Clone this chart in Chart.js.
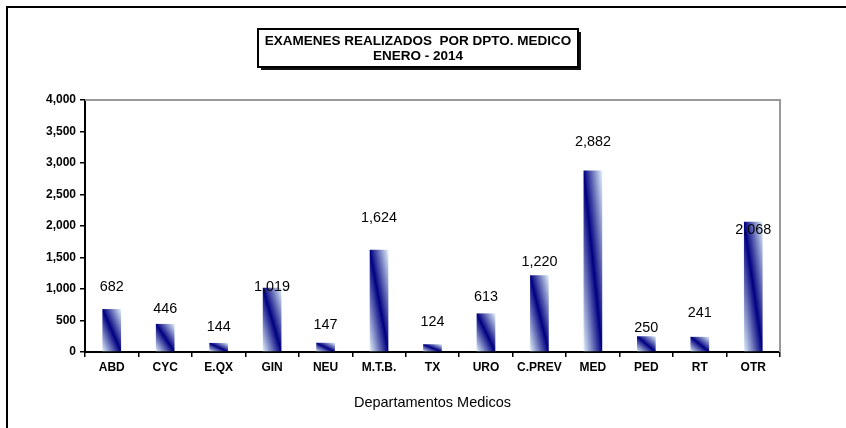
<!DOCTYPE html>
<html>
<head>
<meta charset="utf-8">
<script src="https://cdn.jsdelivr.net/npm/chart.js@4.4.1/dist/chart.umd.min.js"></script>
<style>
  html, body { margin: 0; padding: 0; background: #fff; }
</style>
</head>
<body>
<canvas id="chart-bar" width="846" height="428"></canvas>
<script>
// Data
const departments = ["ABD", "CYC", "E.QX", "GIN", "NEU", "M.T.B.", "TX", "URO", "C.PREV", "MED", "PED", "RT", "OTR"];
const exams = [682, 446, 144, 1019, 147, 1624, 124, 613, 1220, 2882, 250, 241, 2068];
const yMax = 4000;
const yStep = 500;
const titleLines = ["EXAMENES REALIZADOS  POR DPTO. MEDICO", "ENERO - 2014"];
const xTitle = "Departamentos Medicos";
// how far above each bar top the value label sits (px), as placed in the original
const labelLift = [22, 15, 16, 1, 18, 32, 22, 16, 13, 28, 8, 24, -8];

const FONT = "'Liberation Sans', Arial, sans-serif";

// diagonal gradient: light corners bottom-left / top-right, navy stripe along TL-BR diagonal
function barGradient(ctx) {
    const chart = ctx.chart;
    const xs = chart.scales.x, ys = chart.scales.y;
    if (!xs || !ys || ctx.dataIndex === undefined) return "#000080";
    const v = ctx.dataset.data[ctx.dataIndex];
    const cx = xs.getPixelForValue(ctx.dataIndex);
    const w = (xs.width / departments.length) * 0.35;
    const top = ys.getPixelForValue(v);
    const base = ys.getPixelForValue(0);
    const h = Math.max(base - top, 1);
    const cy = (top + base) / 2;
    const n = Math.sqrt(w * w + h * h);
    const d = (w * h) / n;
    const ux = h / n, uy = -w / n;
    const pts = [cx - d * ux, cy - d * uy, cx + d * ux, cy + d * uy];
    if (!pts.every(Number.isFinite) || !(w > 0)) return "#000080";
    const g = chart.ctx.createLinearGradient(pts[0], pts[1], pts[2], pts[3]);
    g.addColorStop(0, "#e4f5fc");
    g.addColorStop(0.5, "#000080");
    g.addColorStop(1, "#e4f5fc");
    return g;
}

const framePlugin = {
    id: "frame",
    beforeDraw(chart) {
        const c = chart.ctx;
        c.save();
        c.fillStyle = "#fff";
        c.fillRect(0, 0, chart.width, chart.height);
        // outer chart border
        c.strokeStyle = "#000";
        c.lineWidth = 2;
        c.strokeRect(7, 7, chart.width + 20, chart.height + 20);
        // title box with shadow
        const bx = 258, by = 29, bw = 320, bh = 38;
        c.fillStyle = "#111";
        c.fillRect(bx + 3, by + 3, bw, bh);
        c.fillStyle = "#fff";
        c.fillRect(bx, by, bw, bh);
        c.lineWidth = 2;
        c.strokeRect(bx, by, bw, bh);
        c.fillStyle = "#000";
        c.font = "bold 13.5px " + FONT;
        c.textAlign = "center";
        c.textBaseline = "middle";
        c.fillText(titleLines[0], bx + bw / 2, 41);
        c.fillText(titleLines[1], bx + bw / 2, 56);
        c.restore();
    },
    afterDraw(chart) {
        const a = chart.chartArea;
        const c = chart.ctx;
        c.save();
        c.strokeStyle = "#999";
        c.lineWidth = 2;
        c.beginPath();
        c.moveTo(a.left, a.top);
        c.lineTo(a.right, a.top);
        c.lineTo(a.right, a.bottom);
        c.stroke();
        c.restore();
    }
};

const valueLabels = {
    id: "valueLabels",
    afterDatasetsDraw(chart) {
        const c = chart.ctx;
        const meta = chart.getDatasetMeta(0);
        c.save();
        c.fillStyle = "#000";
        c.font = "14.4px " + FONT;
        c.textAlign = "center";
        c.textBaseline = "middle";
        meta.data.forEach((bar, i) => {
            c.fillText(exams[i].toLocaleString("en-US"), bar.x, bar.y - labelLift[i]);
        });
        c.restore();
    }
};

const ctxBar = document.getElementById("chart-bar").getContext("2d");
new Chart(ctxBar, {
    type: "bar",
    data: {
        labels: departments,
        datasets: [{
            label: "Examenes",
            data: exams,
            backgroundColor: barGradient,
            borderWidth: 0,
            barPercentage: 0.35,
            categoryPercentage: 1
        }]
    },
    options: {
        responsive: false,
        animation: false,
        locale: "en-US",
        layout: { padding: { left: 0, right: 66, top: 100, bottom: 0 } },
        plugins: {
            legend: { display: false },
            title: { display: false },
            tooltip: { enabled: false }
        },
        scales: {
            x: {
                grid: { drawOnChartArea: false, tickLength: 5, color: "#000", lineWidth: 1.5 },
                border: { color: "#000", width: 2 },
                ticks: { color: "#000", font: { family: FONT, size: 12, weight: "bold" }, padding: 3, maxRotation: 0, autoSkip: false },
                title: { display: true, text: xTitle, color: "#000", font: { family: FONT, size: 14.5 }, padding: { top: 4, bottom: 16 } },
                afterFit(s) { s.height = 76; }
            },
            y: {
                min: 0,
                max: yMax,
                grid: { drawOnChartArea: false, tickLength: 5, color: "#000", lineWidth: 1.5 },
                border: { color: "#000", width: 2 },
                ticks: { stepSize: yStep, color: "#000", font: { family: FONT, size: 12, weight: "bold" }, padding: 4 },
                afterFit(s) { s.width = 85; }
            }
        }
    },
    plugins: [framePlugin, valueLabels]
});
</script>
</body>
</html>
